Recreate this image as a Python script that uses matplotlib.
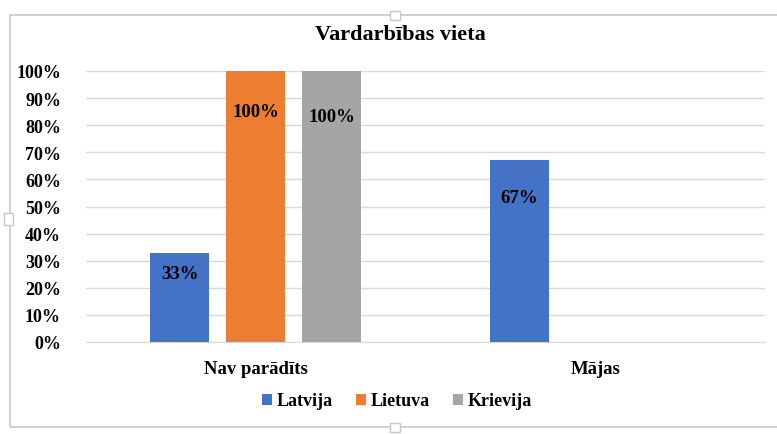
import matplotlib.pyplot as plt
import numpy as np
from matplotlib.patches import Rectangle

categories = ["Nav parādīts", "Mājas"]
series = ["Latvija", "Lietuva", "Krievija"]
latvija = [33, 67]
lietuva = [100, 0]
krievija = [100, 0]
colors = ["#4472c4", "#ed7d31", "#a5a5a5"]
yticks = list(range(0, 101, 10))

plt.rcParams['font.family'] = ['Liberation Serif', 'DejaVu Serif']
plt.rcParams['font.weight'] = 'bold'

fig = plt.figure(figsize=(7.77, 4.35), dpi=100)
W, H = 777, 435
ax = fig.add_axes([86 / W, 1 - 343 / H, (765 - 86) / W, (343 - 72) / H])
px = 100 / (343 - 72)  # data units per pixel

# label drop below bar top, in pixels (per series, per category)
drops = [[21, 37], [41, 0], [46, 0]]

x = np.arange(len(categories))
width = 0.174
step = 0.224
for i, (name, vals) in enumerate(zip(series, [latvija, lietuva, krievija])):
    pos = x + (i - 1) * step
    bars = ax.bar(pos, vals, width, color=colors[i], label=name, zorder=3)
    for j, (b, v) in enumerate(zip(bars, vals)):
        if v > 0:
            ax.text(b.get_x() + b.get_width() / 2, v - drops[i][j] * px, f"{v}%",
                    ha='center', va='center', fontsize=13.5, fontweight='bold', zorder=4)

ax.set_xlim(-0.5, 1.5)
ax.set_ylim(0, 100)
ax.set_yticks(yticks)
ax.set_yticklabels([f"{t}%" for t in yticks], fontsize=13, fontweight='bold')
ax.set_xticks(x)
ax.set_xticklabels(categories, fontsize=13.5, fontweight='bold')
ax.tick_params(length=0)
ax.tick_params(axis='y', pad=18)
ax.tick_params(axis='x', pad=13)
ax.grid(axis='y', color='#d9d9d9', linewidth=1, zorder=0)
for s in ['top', 'right', 'left']:
    ax.spines[s].set_visible(False)
ax.spines['bottom'].set_color('#d9d9d9')

fig.text(400 / W, 1 - 35 / H, "Vardarbības vieta", ha='center', va='center',
         fontsize=16, fontweight='bold')

fig.legend(loc='center', bbox_to_anchor=(397 / W, 1 - 402 / H), ncol=3,
           frameon=False, handlelength=0.55, handleheight=0.55,
           columnspacing=1.3, handletextpad=0.25, prop={'weight': 'bold', 'size': 13})

# chart frame
fig.patches.append(Rectangle((10 / W, 1 - 428 / H), (W + 5 - 10) / W, (428 - 16) / H,
                             transform=fig.transFigure, fill=False,
                             edgecolor='#c8c8c8', linewidth=1.2))
for (hx, hy, hw, hh) in [(390, 12, 10, 9), (4, 214, 9, 12), (390, 424, 10, 9)]:
    fig.patches.append(Rectangle((hx / W, 1 - (hy + hh) / H), hw / W, hh / H,
                                 transform=fig.transFigure, facecolor='white',
                                 edgecolor='#c8c8c8', linewidth=1))

fig.savefig("out.png", dpi=100)
